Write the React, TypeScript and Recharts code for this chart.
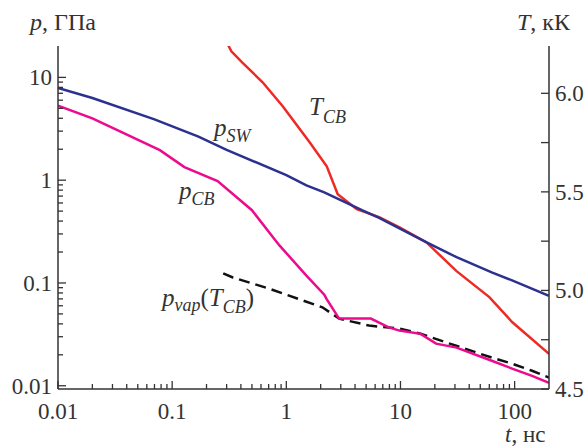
import { Line, LineChart, XAxis, YAxis } from "recharts";

// pressure in the shock wave
const tSW = [0.01, 0.02, 0.07, 0.17, 0.3, 1.0, 1.5, 2.15, 4.6, 6.5, 9.8, 16.8, 31, 63, 95, 200];
const pSW = [7.9, 6.3, 3.9, 2.65, 1.97, 1.12, 0.89, 0.76, 0.51, 0.43, 0.34, 0.25, 0.178, 0.127, 0.106, 0.075];

// pressure at the contact boundary
const tCB = [0.01, 0.02, 0.078, 0.128, 0.25, 0.5, 0.87, 1.5, 2.15, 2.25, 2.9, 5.5, 7.9, 9.8, 15, 20.5, 31, 63, 95, 142, 200];
const pCB = [5.3, 4.0, 1.96, 1.34, 0.98, 0.51, 0.232, 0.118, 0.077, 0.07, 0.045, 0.045, 0.037, 0.0344, 0.032, 0.0257, 0.0235, 0.0175, 0.0147, 0.0125, 0.0107];

// saturated vapour pressure at T_CB
const tVap = [0.28, 0.34, 0.71, 2.07, 2.9, 5.3, 9.8, 15, 27, 63, 95, 142, 200];
const pVap = [0.124, 0.113, 0.088, 0.058, 0.045, 0.0385, 0.036, 0.0321, 0.0257, 0.0188, 0.0164, 0.014, 0.012];

// temperature at the contact boundary, kK
const tT = [0.3, 0.33, 0.41, 0.62, 0.93, 1.6, 2.26, 2.82, 4.14, 6.5, 9.8, 16.8, 31, 60, 95, 200];
const TCB = [6.26, 6.213, 6.157, 6.056, 5.934, 5.752, 5.63, 5.488, 5.412, 5.372, 5.32, 5.245, 5.098, 4.966, 4.84, 4.678];

const xMajor = [0.01, 0.1, 1, 10, 100];
const yMajor = [0.01, 0.1, 1, 10];
const tMajor = [4.5, 5.0, 5.5, 6.0];
const tMinor = [4.75, 5.25, 5.75];

const FONT = "Liberation Serif, serif";
const INK = "#333";

function logTicks(from: number, to: number, max: number) {
  const out: number[] = [];
  for (let d = from; d <= to; d++) {
    for (let k = 1; k <= 9; k++) {
      const v = Number((k * Math.pow(10, d)).toPrecision(3));
      if (v <= max) out.push(v);
    }
  }
  return out;
}

const xTicks = logTicks(-2, 2, 190);
const yTicks = logTicks(-2, 1, 19);
const tTicks = [...tMajor, ...tMinor].sort((a, b) => a - b);

const zip = (xs: number[], ys: number[], key: string) => xs.map((t, i) => ({ t, [key]: ys[i] }));

const isMajor = (list: number[], v: number) => list.some((m) => Math.abs(m - v) < 1e-9);

function XTick(props: any) {
  const { x, y, payload } = props;
  const major = isMajor(xMajor, payload.value);
  return (
    <g>
      <line x1={x} x2={x} y1={y} y2={y - (major ? 8 : 5)} stroke={INK} strokeWidth={1.3} />
      {major ? (
        <text x={x} y={y + 30} textAnchor="middle" fontFamily={FONT} fontSize={23} fill={INK}>
          {String(payload.value)}
        </text>
      ) : null}
    </g>
  );
}

function YTick(props: any) {
  const { x, y, payload } = props;
  const major = isMajor(yMajor, payload.value);
  return (
    <g>
      <line x1={x} x2={x + (major ? 8 : 5)} y1={y} y2={y} stroke={INK} strokeWidth={1.3} />
      {major ? (
        <text x={x - 6} y={y + 8} textAnchor="end" fontFamily={FONT} fontSize={23} fill={INK}>
          {String(payload.value)}
        </text>
      ) : null}
    </g>
  );
}

function TTick(props: any) {
  const { x, y, payload } = props;
  const major = isMajor(tMajor, payload.value);
  return (
    <g>
      <line x1={x} x2={x - 8} y1={y} y2={y} stroke={INK} strokeWidth={1.3} />
      {major ? (
        <text x={x + 6} y={y + 8} textAnchor="start" fontFamily={FONT} fontSize={23} fill={INK}>
          {payload.value.toFixed(1)}
        </text>
      ) : null}
    </g>
  );
}

function Labels() {
  return (
    <svg width={588} height={448} style={{ position: "absolute", left: 0, top: 0, pointerEvents: "none" }}>
      <g fontFamily={FONT} fill={INK}>
        <text x={30} y={30} fontSize={24}>
          <tspan fontStyle="italic">p</tspan>, ГПа
        </text>
        <text x={517} y={30} fontSize={24}>
          <tspan fontStyle="italic">T</tspan>, кК
        </text>
        <text x={505} y={442} fontSize={23}>
          <tspan fontStyle="italic">t</tspan>, нс
        </text>
        <text x={214} y={136} fontSize={25} fontStyle="italic">
          p<tspan fontSize={18} dy={6}>SW</tspan>
        </text>
        <text x={309} y={115} fontSize={25} fontStyle="italic">
          T<tspan fontSize={18} dy={8}>CB</tspan>
        </text>
        <text x={179} y={199} fontSize={25} fontStyle="italic">
          p<tspan fontSize={18} dy={6}>CB</tspan>
        </text>
        <text x={162} y={306} fontSize={25}>
          <tspan fontStyle="italic">p</tspan>
          <tspan fontStyle="italic" fontSize={18} dy={5}>vap</tspan>
          <tspan dy={-5}>(</tspan>
          <tspan fontStyle="italic">T</tspan>
          <tspan fontStyle="italic" fontSize={18} dy={7}>CB</tspan>
          <tspan dy={-7}>)</tspan>
        </text>
      </g>
    </svg>
  );
}

export default function App() {
  return (
    <div style={{ position: "absolute", left: 0, top: 0, width: 588, height: 448, background: "#fff" }}>
      <LineChart width={588} height={448} margin={{ top: 46, right: 0, bottom: 0, left: 0 }}>
        <XAxis
          dataKey="t"
          type="number"
          scale="log"
          domain={[0.01, 200]}
          allowDataOverflow
          ticks={xTicks}
          interval={0}
          height={59}
          tickSize={0}
          tickMargin={0}
          tickLine={false}
          tick={<XTick />}
          axisLine={{ stroke: INK, strokeWidth: 1.5 }}
        />
        <XAxis
          xAxisId="top"
          orientation="top"
          dataKey="t"
          type="number"
          scale="log"
          domain={[0.01, 200]}
          allowDataOverflow
          height={0}
          tick={false}
          tickLine={false}
          axisLine={{ stroke: INK, strokeWidth: 1.5 }}
        />
        <YAxis
          yAxisId="p"
          type="number"
          scale="log"
          domain={[0.0093, 20.2]}
          allowDataOverflow
          ticks={yTicks}
          interval={0}
          width={58}
          tickSize={0}
          tickMargin={0}
          tickLine={false}
          tick={<YTick />}
          axisLine={{ stroke: INK, strokeWidth: 1.5 }}
        />
        <YAxis
          yAxisId="T"
          orientation="right"
          type="number"
          domain={[4.5, 6.24]}
          allowDataOverflow
          ticks={tTicks}
          interval={0}
          width={39}
          tickSize={0}
          tickMargin={0}
          tickLine={false}
          tick={<TTick />}
          axisLine={{ stroke: INK, strokeWidth: 1.5 }}
        />
        <Line
          yAxisId="T"
          data={zip(tT, TCB, "T")}
          dataKey="T"
          stroke="#ee2a24"
          strokeWidth={2.5}
          dot={false}
          type="linear"
          isAnimationActive={false}
        />
        <Line
          yAxisId="p"
          data={zip(tVap, pVap, "p")}
          dataKey="p"
          stroke="#111"
          strokeWidth={2.5}
          strokeDasharray="11 6"
          dot={false}
          type="linear"
          isAnimationActive={false}
        />
        <Line
          yAxisId="p"
          data={zip(tCB, pCB, "p")}
          dataKey="p"
          stroke="#ec0b8d"
          strokeWidth={2.5}
          dot={false}
          type="linear"
          isAnimationActive={false}
        />
        <Line
          yAxisId="p"
          data={zip(tSW, pSW, "p")}
          dataKey="p"
          stroke="#2c3190"
          strokeWidth={2.5}
          dot={false}
          type="linear"
          isAnimationActive={false}
        />
      </LineChart>
      <Labels />
    </div>
  );
}
